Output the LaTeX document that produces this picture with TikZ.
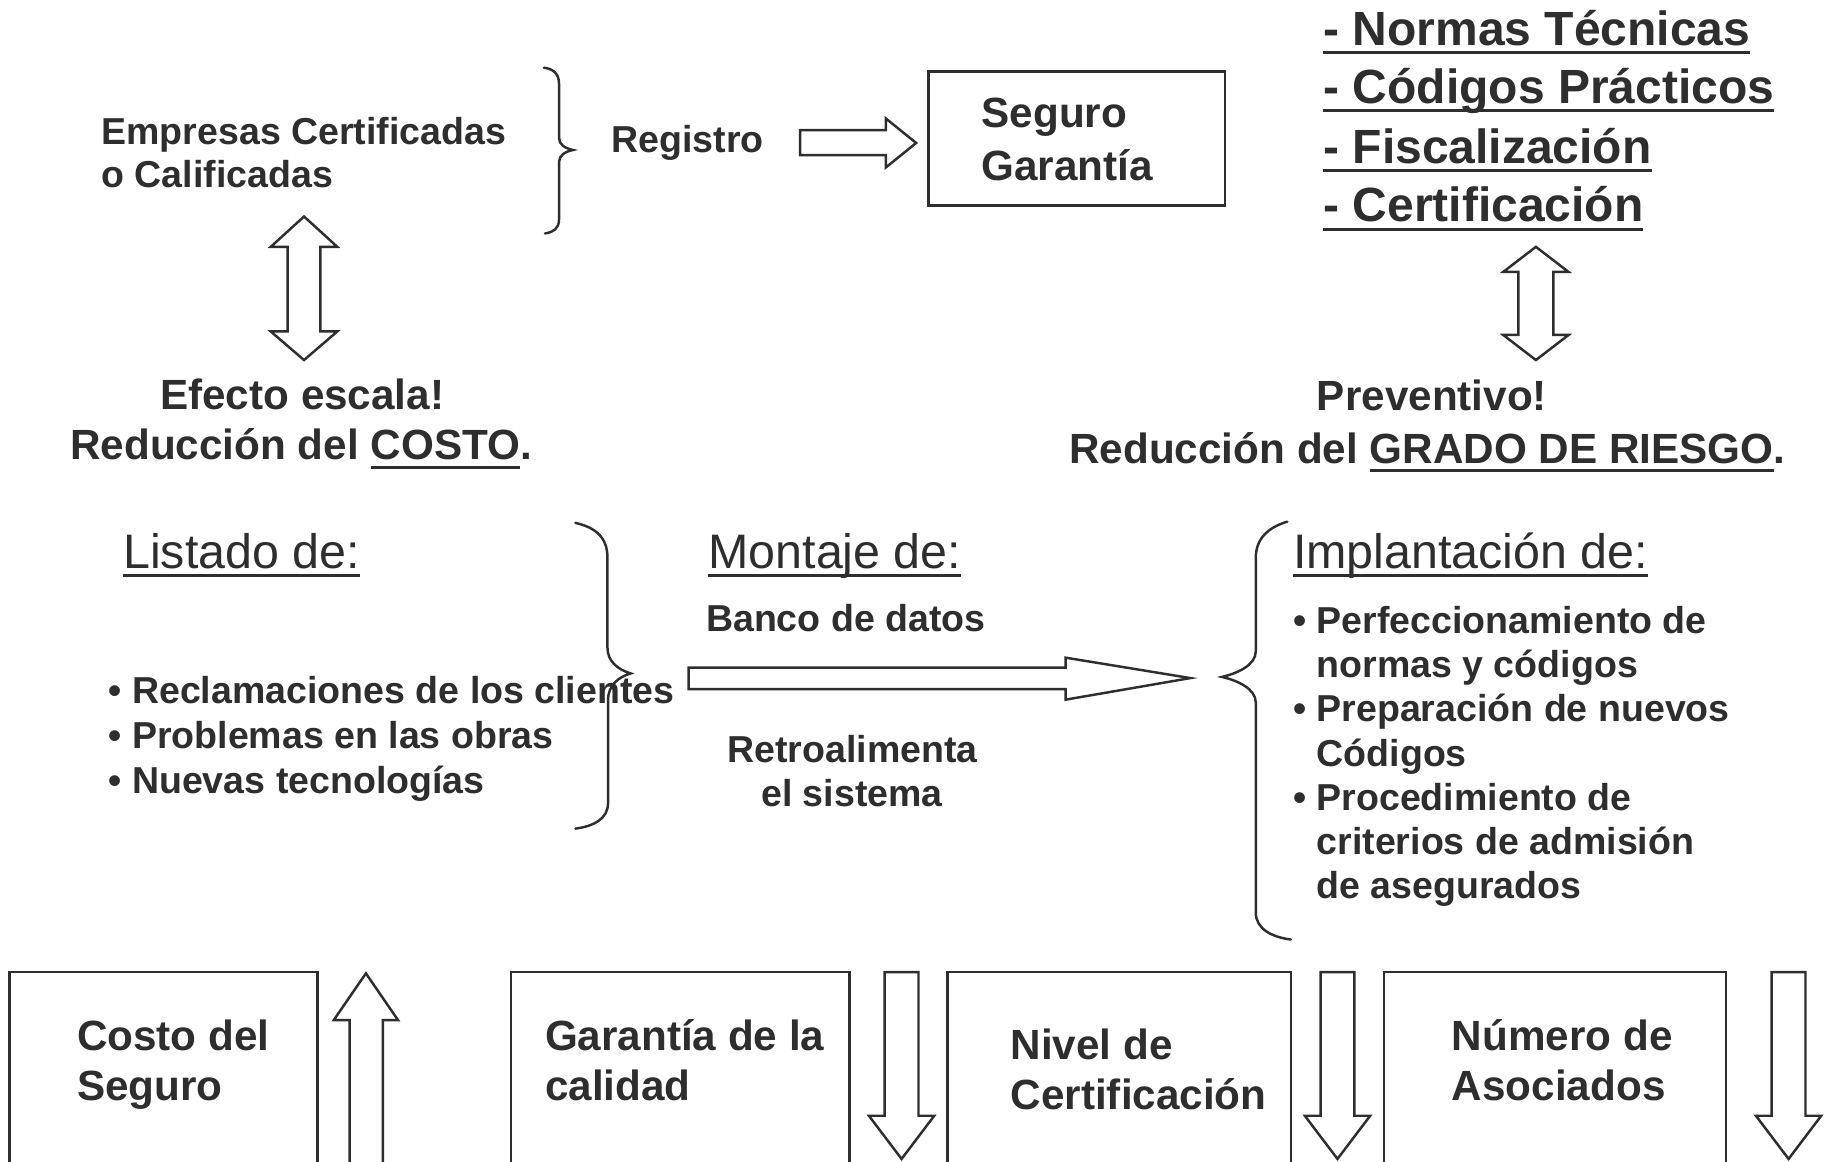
\documentclass[tikz,border=0pt]{standalone}
\usepackage{fontspec}
\setmainfont{Liberation Sans}
\usetikzlibrary{positioning}
\definecolor{ink}{gray}{0.18}
\newcommand{\fsz}[2]{\fontsize{#1}{#2}\selectfont}
\newcommand{\uln}[1]{\setbox0\hbox{#1}\rlap{\rule[-2.2pt]{\wd0}{0.75pt}}\box0}

\begin{document}
\begin{tikzpicture}[x=0.1mm,y=-0.1mm,color=ink,line width=0.6pt,
		every node/.style={inner sep=0pt,outer sep=0pt},
		txt/.style={anchor=base west,font=\bfseries\fsz{9.15}{11}},
		ctxt/.style={anchor=base,font=\bfseries\fsz{9.15}{11}},
		big/.style={anchor=base,font=\bfseries\fsz{10.3}{12}},
		boxtxt/.style={anchor=base west,font=\bfseries\fsz{10.3}{12}},
		lst/.style={anchor=base west,font=\bfseries\fsz{11.7}{14}},
		head/.style={anchor=base west,font=\fsz{11.8}{14}},
		frame/.style={draw,rectangle,anchor=north west},
		blk/.style={draw,fill=white,line join=miter},
		brc/.style={draw,line cap=round}]
	\useasboundingbox (0,0) rectangle (1568,995);
	\clip (0,0) rectangle (1568,995);
	
	% top left
	\node[txt] (emp1) at (87,123.5) {Empresas Certificadas};
	\node[txt] (emp2) at (87,160.5) {o Calificadas};
	\draw[brc] (466,58) .. controls (474,59) and (479,63) .. (479,72) -- (479,118) .. controls (479,124) and (484,127) .. (491,128.5) .. controls (484,130) and (479,133) .. (479,139) -- (479,188) .. controls (479,196) and (474,199) .. (467,200);
	\node[txt] (reg) at (524,131) {Registro};
	\draw[blk] (685.5,111.5) -- (759,111.5) -- (759,101.5) -- (785,122.5) -- (759,143.5) -- (759,133) -- (685.5,133) -- cycle;
	\node[frame,minimum width=25.42mm,minimum height=11.48mm] (seg) at (795.4,61.4) {};
	\node[boxtxt] (seg1) at (841,109) {Seguro};
	\node[boxtxt] (seg2) at (841,155) {Garantía};
	
	% top right
	\node[lst] (nor1) at (1134,38.6) {\uln{- Normas Técnicas}};
	\node[lst] (nor2) at (1134,88.6) {\uln{- Códigos Prácticos}};
	\node[lst] (nor3) at (1134,140) {\uln{- Fiscalización}};
	\node[lst] (nor4) at (1134,190) {\uln{- Certificación}};
	
	\draw[blk] (260.5,185.5) -- (289,211.5) -- (274.5,211.5) -- (274.5,284) -- (289,284) -- (260.5,308.5) -- (232,284) -- (246.5,284) -- (246.5,211.5) -- (232,211.5) -- cycle;
	\draw[blk] (1316,211.5) -- (1344,233) -- (1331,233) -- (1331,287) -- (1344,287) -- (1316,308.5) -- (1288,287) -- (1301,287) -- (1301,233) -- (1288,233) -- cycle;
	
	\node[big] (efe) at (259,351) {Efecto escala!};
	\node[big] (red1) at (258,394) {Reducción del \uln{COSTO}.};
	\node[big] (pre) at (1227,352) {Preventivo!};
	\node[big] (red2) at (1223,397) {Reducción del \uln{GRADO DE RIESGO}.};
	
	% middle
	\node[head] (lis) at (105.6,487) {\uln{Listado de:}};
	\node[head] (mon) at (607,487) {\uln{Montaje de:}};
	\node[head] (imp) at (1108,487) {\uln{Implantación de:}};
	
	\node[txt] (l1) at (93,602.5) {• Reclamaciones de los clientes};
	\node[txt] (l2) at (93,641) {• Problemas en las obras};
	\node[txt] (l3) at (93,680) {• Nuevas tecnologías};
	\draw[brc] (493,448) .. controls (510,452) and (520.5,460) .. (520.5,478) -- (520.5,555) .. controls (520.5,567) and (530,574) .. (540.5,577) .. controls (530,580) and (521,587) .. (521,600) -- (521,688) .. controls (521,702) and (508,708) .. (493,710);
	
	\node[txt] (ban) at (605,541) {Banco de datos};
	\draw[blk] (590,572) -- (913,572) -- (913,563.5) -- (1020,581) -- (913,599.5) -- (913,590.5) -- (590,590.5) -- cycle;
	\node[ctxt] (ret1) at (730.5,653) {Retroalimenta};
	\node[ctxt] (ret2) at (730,691) {el sistema};
	
	\draw[brc] (1103,447) .. controls (1086,452) and (1076,462) .. (1076,478) -- (1076,558) .. controls (1076,570) and (1060,577) .. (1047,580) .. controls (1060,583) and (1076,590) .. (1076,602) -- (1076,782) .. controls (1076,796) and (1090,803) .. (1106,805);
	\node[txt] (r1) at (1108,543) {• Perfeccionamiento de};
	\node[txt] (r2) at (1108,580.8) {\phantom{• }normas y códigos};
	\node[txt] (r3) at (1108,618.6) {• Preparación de nuevos};
	\node[txt] (r4) at (1108,656.4) {\phantom{• }Códigos};
	\node[txt] (r5) at (1108,694.2) {• Procedimiento de};
	\node[txt] (r6) at (1108,732) {\phantom{• }criterios de admisión};
	\node[txt] (r7) at (1108,769.8) {\phantom{• }de asegurados};
	
	% bottom row
	\node[frame,minimum width=26.4mm,minimum height=20mm] (bx1) at (8,833) {};
	\node[frame,minimum width=29mm,minimum height=20mm] (bx2) at (438,833) {};
	\node[frame,minimum width=29.4mm,minimum height=20mm] (bx3) at (812,833) {};
	\node[frame,minimum width=29.3mm,minimum height=20mm] (bx4) at (1186,833) {};
	\node[boxtxt] (c1) at (66,900) {Costo del};
	\node[boxtxt] (c2) at (66,943) {Seguro};
	\node[boxtxt] (g1) at (467,900) {Garantía de la};
	\node[boxtxt] (g2) at (467,943) {calidad};
	\node[boxtxt] (n1) at (866,908) {Nivel de};
	\node[boxtxt] (n2) at (866,951) {Certificación};
	\node[boxtxt] (u1) at (1244,900) {Número de};
	\node[boxtxt] (u2) at (1244,943) {Asociados};
	
	\draw[blk] (299.5,1010) -- (299.5,874) -- (286,874) -- (313.5,834) -- (341,874) -- (328,874) -- (328,1010);
	\foreach \cx in {772.5,1146,1532.5}
		\draw[blk] (\cx-14.5,833) -- (\cx+14.5,833) -- (\cx+14.5,956) -- (\cx+28,956) -- (\cx,993) -- (\cx-28,956) -- (\cx-14.5,956) -- cycle;
\end{tikzpicture}
\end{document}
